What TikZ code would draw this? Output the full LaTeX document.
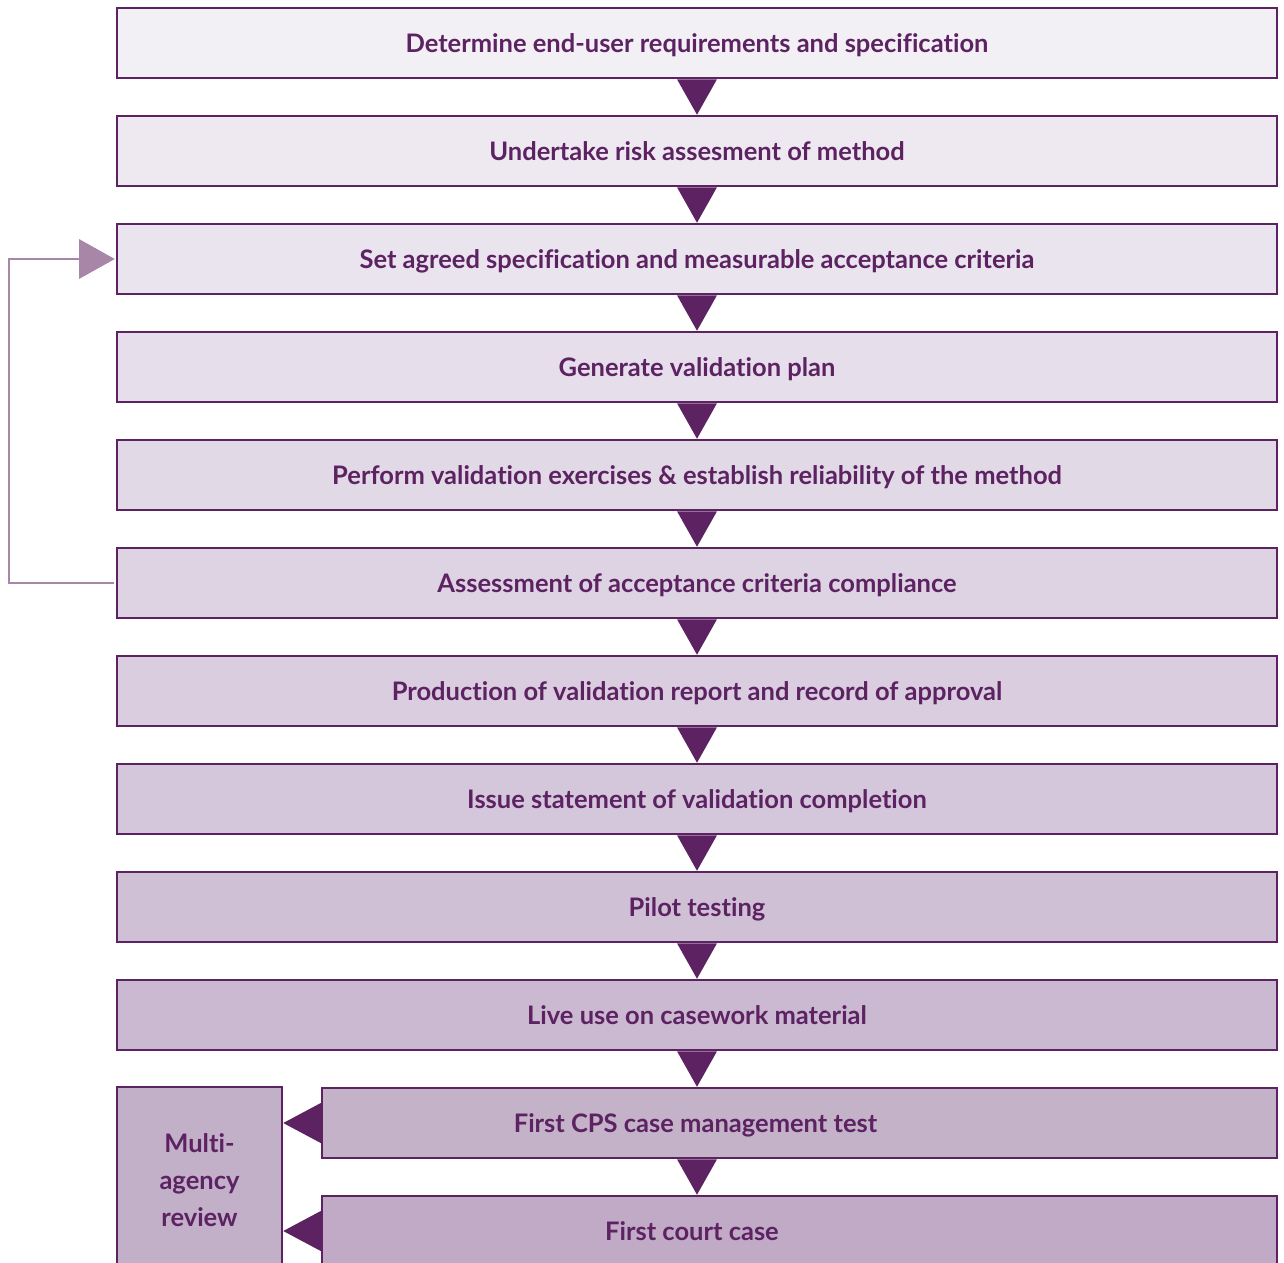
\documentclass[tikz,border=0pt]{standalone}
\usepackage{fontspec}
\setmainfont{Lato}[Ligatures=NoCommon]
\usetikzlibrary{calc}
\definecolor{dpurple}{HTML}{5C2262}
\definecolor{fbpurple}{HTML}{A886A8}
\definecolor{f1}{HTML}{F2EFF5}
\definecolor{f2}{HTML}{EEE9F1}
\definecolor{f3}{HTML}{EAE4EE}
\definecolor{f4}{HTML}{E6DEEA}
\definecolor{f5}{HTML}{E2D9E6}
\definecolor{f6}{HTML}{DED3E2}
\definecolor{f7}{HTML}{DACDDF}
\definecolor{f8}{HTML}{D5C7DB}
\definecolor{f9}{HTML}{D0C0D6}
\definecolor{f10}{HTML}{CBB9D1}
\definecolor{f11}{HTML}{C4B2C9}
\definecolor{f12}{HTML}{C0AAC6}
\tikzset{
  stepbox/.style={draw=dpurple, line width=2.5pt, minimum height=70pt, inner sep=0pt,
    font=\fontsize{25.5}{30}\selectfont\bfseries, text=dpurple},
  widebox/.style={stepbox, minimum width=1160pt, text height=21pt, text depth=2pt},
  lowbox/.style={stepbox, minimum width=955pt, text height=21pt, text depth=2pt},
  tri/.style={fill=dpurple},
}
\begin{document}
\begin{tikzpicture}[x=1pt,y=-1pt]
\useasboundingbox (0,0) rectangle (1284,1262);
\begin{scope}
\clip (0,0) rectangle (1284,1262);
\node[widebox, fill=f1] (b1) at (697,43) {Determine end-user requirements and specification};
\node[widebox, fill=f2] (b2) at (697,151) {Undertake risk assesment of method};
\node[widebox, fill=f3] (b3) at (697,259) {Set agreed specification and measurable acceptance criteria};
\node[widebox, fill=f4] (b4) at (697,367) {Generate validation plan};
\node[widebox, fill=f5] (b5) at (697,475) {Perform validation exercises \& establish reliability of the method};
\node[widebox, fill=f6] (b6) at (697,583) {Assessment of acceptance criteria compliance};
\node[widebox, fill=f7] (b7) at (697,691) {Production of validation report and record of approval};
\node[widebox, fill=f8] (b8) at (697,799) {Issue statement of validation completion};
\node[widebox, fill=f9] (b9) at (697,907) {Pilot testing};
\node[widebox, fill=f10] (b10) at (697,1015) {Live use on casework material};
\node[lowbox, fill=f11] (b11) at (799.5,1123) {\hspace*{-208pt}First CPS case management test};
\node[lowbox, fill=f12] (b12) at (799.5,1231) {\hspace*{-215pt}First court case};
\node[stepbox, fill=f11!60!f12, minimum width=165pt, minimum height=186pt, align=center,
  font=\fontsize{25.5}{37}\selectfont\bfseries] (m) at (199.5,1180) {Multi-\\agency\\review};
% down triangles
\foreach \a/\b in {b1/b2,b2/b3,b3/b4,b4/b5,b5/b6,b6/b7,b7/b8,b8/b9,b9/b10,b10/b11,b11/b12}{
  \fill[tri] ($(697,0 |- \a.south)+(-20,0)$) -- ($(697,0 |- \a.south)+(20,0)$) -- (697,0 |- \b.north) -- cycle;
}
% left triangles
\fill[tri] ($(b11.west)+(0,-20)$) -- ($(b11.west)+(0,20)$) -- (m.east |- b11.west) -- cycle;
\fill[tri] ($(b12.west)+(0,-20)$) -- ($(b12.west)+(0,20)$) -- (m.east |- b12.west) -- cycle;
% feedback loop
\coordinate (fb) at (79,0 |- b3.west);
\draw[fbpurple, line width=2pt] ($(b6.west)+(-1.5,0)$) -- (9,0 |- b6.west) -- (9,0 |- b3.west) -- (fb);
\fill[fbpurple] ($(fb)+(0,-20)$) -- ($(fb)+(0,20)$) -- ($(b3.west)+(-1,0)$) -- cycle;
\end{scope}
\end{tikzpicture}
\end{document}
